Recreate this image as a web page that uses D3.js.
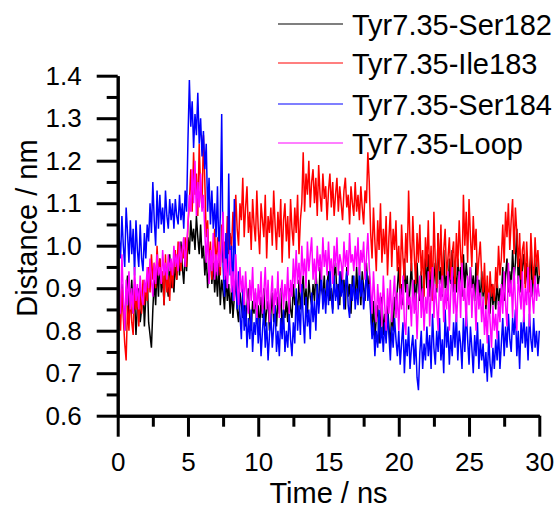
<!DOCTYPE html>
<html>
<head>
<meta charset="utf-8">
<script src="https://cdn.jsdelivr.net/npm/d3@7"></script>
<style>
  body { margin: 0; background: #fff; }
  text { font-family: 'Liberation Sans', Arial, sans-serif; fill: #000; }
</style>
</head>
<body>
<div id="chart"></div>
<script>
// sampling step of the traces (ns)
const timeStep = 0.1

const seriesNames = ['Tyr7.35-Ser182', 'Tyr7.35-Ile183', 'Tyr7.35-Ser184', 'Tyr7.35-Loop']
const seriesColors = ['#000000', '#ff0000', '#0000ff', '#ff00ff']

// distances in nm, one value every 0.1 ns from 0 to 30 ns (one row = 1 ns)
const ser182 = [
  0.95, 0.88, 0.84, 0.91, 0.86, 0.80, 0.89, 0.93, 0.83, 0.87,
  0.92, 0.84, 0.88, 0.79, 0.86, 0.90, 0.82, 0.85, 0.91, 0.81,
  0.88, 0.93, 0.82, 0.79, 0.76, 0.85, 0.92, 0.86, 0.95, 0.88,
  0.97, 0.89, 0.93, 0.86, 0.95, 0.91, 0.88, 0.98, 0.90, 0.94,
  0.89, 0.96, 0.92, 0.99, 0.93, 1.01, 0.95, 0.91, 0.98, 0.94,
  1.02, 0.98, 1.06, 1.01, 1.04, 0.99, 1.07, 1.02, 0.98, 1.05,
  0.97, 1.00, 0.93, 0.98, 0.90, 0.95, 0.99, 0.91, 0.96, 0.89,
  0.94, 0.88, 0.96, 0.86, 0.92, 0.89, 0.85, 0.93, 0.87, 0.91,
  0.84, 0.90, 0.83, 0.88, 0.92, 0.85, 0.82, 0.89, 0.86, 0.83,
  0.88, 0.81, 0.86, 0.90, 0.83, 0.80, 0.87, 0.84, 0.89, 0.82,
  0.86, 0.80, 0.88, 0.83, 0.90, 0.81, 0.85, 0.87, 0.80, 0.84,
  0.89, 0.82, 0.86, 0.81, 0.88, 0.84, 0.90, 0.80, 0.85, 0.83,
  0.87, 0.82, 0.90, 0.85, 0.83, 0.91, 0.86, 0.88, 0.84, 0.92,
  0.85, 0.89, 0.93, 0.86, 0.90, 0.84, 0.92, 0.88, 0.86, 0.91,
  0.87, 0.94, 0.89, 0.86, 0.95, 0.90, 0.88, 0.93, 0.86, 0.91,
  0.94, 0.87, 0.90, 0.85, 0.93, 0.96, 0.88, 0.91, 0.86, 0.94,
  0.89, 0.92, 0.85, 0.95, 0.88, 0.91, 0.84, 0.93, 0.90, 0.87,
  0.95, 0.88, 0.92, 0.86, 0.94, 0.90, 0.87, 0.96, 0.89, 0.93,
  0.85, 0.80, 0.87, 0.78, 0.83, 0.86, 0.77, 0.82, 0.88, 0.79,
  0.84, 0.78, 0.86, 0.81, 0.76, 0.85, 0.80, 0.88, 0.84, 0.90,
  0.95, 0.87, 0.91, 0.86, 0.97, 0.89, 0.93, 0.85, 0.90, 0.96,
  0.88, 0.92, 0.85, 0.96, 0.89, 0.87, 0.94, 0.86, 0.91, 0.97,
  0.90, 0.98, 0.88, 0.94, 0.87, 0.92, 0.96, 0.89, 1.03, 0.91,
  0.95, 0.88, 0.99, 0.90, 0.93, 0.87, 0.97, 0.91, 0.99, 0.89,
  0.94, 0.89, 0.97, 0.91, 0.95, 0.88, 0.98, 0.90, 0.96, 0.92,
  0.88, 0.95, 0.90, 0.93, 0.87, 0.96, 0.89, 0.92, 0.86, 0.94,
  0.88, 0.92, 0.85, 0.90, 0.87, 0.84, 0.91, 0.86, 0.89, 0.85,
  0.92, 0.86, 0.90, 0.88, 0.95, 0.87, 0.93, 0.97, 0.89, 0.94,
  0.90, 0.99, 0.92, 0.96, 1.04, 0.91, 0.97, 0.89, 0.95, 0.98,
  0.91, 0.96, 0.89, 0.94, 0.98, 0.88, 0.95, 0.92, 0.97, 0.90,
  0.93
]

const ile183 = [
  0.93, 0.85, 0.80, 0.90, 0.83, 0.77, 0.73, 0.86, 0.80, 0.89,
  0.82, 0.79, 0.91, 0.85, 0.88, 0.81, 0.90, 0.84, 0.92, 0.86,
  0.91, 0.87, 0.95, 0.89, 0.98, 0.92, 0.96, 0.90, 1.00, 0.93,
  0.97, 0.91, 0.94, 0.86, 0.98, 0.89, 0.93, 0.87, 0.96, 0.90,
  0.95, 0.99, 0.92, 1.01, 0.96, 0.94, 1.00, 0.97, 1.02, 0.95,
  1.05, 1.10, 1.18, 1.08, 1.22, 1.12, 1.17, 1.07, 1.24, 1.13,
  1.09, 1.26, 1.15, 1.02, 1.06, 0.95, 1.01, 0.92, 0.98, 1.04,
  0.94, 1.02, 0.97, 0.93, 1.05, 0.96, 1.01, 0.95, 1.07, 0.98,
  1.03, 0.99, 1.08, 1.01, 1.12, 1.04, 1.00, 1.10, 1.06, 1.16,
  1.02, 1.09, 1.14, 1.03, 1.08, 0.99, 1.11, 1.05, 1.01, 1.13,
  1.04, 0.98, 1.10, 1.06, 1.02, 1.12, 0.97, 1.07, 1.03, 1.09,
  1.00, 1.13, 1.05, 0.99, 1.08, 1.02, 1.11, 0.96, 1.06, 1.10,
  1.01, 1.07, 0.97, 1.11, 1.04, 1.00, 1.09, 1.03, 1.12, 0.98,
  1.06, 1.10, 1.22, 1.08, 1.17, 1.12, 1.20, 1.09, 1.15, 1.18,
  1.10, 1.16, 1.07, 1.19, 1.12, 1.08, 1.17, 1.11, 1.14, 1.06,
  1.13, 1.17, 1.09, 1.15, 1.07, 1.12, 1.16, 1.08, 1.14, 1.10,
  1.06, 1.13, 1.16, 1.09, 1.12, 1.05, 1.14, 1.10, 1.07, 1.15,
  1.08, 1.12, 1.06, 1.14, 1.09, 1.05, 1.13, 1.10, 1.22, 1.15,
  1.03, 0.97, 1.09, 1.01, 0.94, 1.06, 0.99, 1.10, 0.96, 1.04,
  0.98, 1.07, 0.93, 1.02, 1.08, 0.95, 1.04, 0.99, 1.06, 0.94,
  1.00, 0.90, 1.05, 0.97, 0.92, 1.03, 0.96, 1.13, 1.01, 0.94,
  1.07, 0.98, 0.91, 1.03, 0.96, 1.05, 0.93, 0.99, 0.88, 1.02,
  0.95, 1.06, 0.92, 1.00, 0.87, 1.08, 0.96, 0.90, 1.03, 0.94,
  1.05, 0.89, 0.99, 1.04, 0.93, 0.97, 1.02, 0.92, 0.98, 1.01,
  0.90, 1.03, 0.95, 1.06, 0.98, 0.93, 1.12, 1.00, 1.08, 0.96,
  1.11, 1.02, 0.95, 1.07, 0.99, 1.04, 0.92, 0.97, 1.01, 0.93,
  0.89, 0.96, 0.86, 0.93, 0.85, 0.94, 0.88, 0.91, 0.87, 0.95,
  0.90, 1.00, 0.93, 0.97, 1.05, 0.96, 1.08, 1.02, 1.10, 0.99,
  1.06, 1.11, 0.98, 1.09, 1.03, 0.95, 1.03, 0.92, 0.99, 1.01,
  0.90, 1.01, 0.94, 0.89, 1.03, 0.96, 0.91, 1.02, 0.95, 0.99,
  0.93
]

const ser184 = [
  1.10, 1.02, 0.97, 1.07, 1.00, 0.95, 1.09, 1.03, 0.96, 1.06,
  0.98, 1.04, 0.93, 1.06, 0.99, 0.95, 1.05, 0.97, 0.94, 1.03,
  0.97, 1.05, 1.01, 1.10, 1.03, 1.15, 1.06, 1.00, 1.13, 1.04,
  1.12, 1.05, 1.09, 1.03, 1.13, 1.07, 1.04, 1.11, 1.06, 1.10,
  1.04, 1.11, 1.07, 1.05, 1.12, 1.06, 1.10, 1.04, 1.13, 1.08,
  1.25, 1.39, 1.28, 1.34, 1.23, 1.31, 1.26, 1.36, 1.24, 1.30,
  1.21, 1.27, 1.18, 1.24, 1.08, 1.16, 1.05, 1.13, 1.04, 1.10,
  1.02, 1.14, 0.98, 1.07, 1.31, 0.95, 0.88, 1.03, 0.90, 1.17,
  0.93, 1.00, 0.87, 1.11, 0.92, 0.85, 0.94, 0.84, 0.78, 0.90,
  0.80, 0.86, 0.76, 0.83, 0.78, 0.85, 0.75, 0.82, 0.79, 0.86,
  0.77, 0.83, 0.74, 0.80, 0.85, 0.76, 0.82, 0.73, 0.79, 0.84,
  0.76, 0.81, 0.86, 0.75, 0.80, 0.74, 0.83, 0.78, 0.85, 0.75,
  0.80, 0.76, 0.84, 0.78, 0.74, 0.82, 0.77, 0.90, 0.80, 0.86,
  0.79, 0.91, 0.83, 0.77, 0.88, 0.81, 0.85, 0.78, 0.89, 0.82,
  0.87, 0.80, 0.91, 0.84, 0.89, 0.93, 0.85, 0.90, 0.84, 0.92,
  0.86, 0.95, 0.88, 0.84, 0.93, 0.87, 0.91, 0.85, 0.94, 0.88,
  0.92, 0.85, 0.90, 0.94, 0.86, 0.83, 0.91, 0.87, 0.93, 0.85,
  0.90, 0.86, 0.95, 0.88, 0.92, 0.85, 0.89, 0.94, 0.87, 0.91,
  0.84, 0.78, 0.82, 0.74, 0.80, 0.76, 0.85, 0.77, 0.81, 0.75,
  0.82, 0.77, 0.84, 0.79, 0.73, 0.81, 0.76, 0.83, 0.78, 0.74,
  0.80, 0.72, 0.77, 0.82, 0.70, 0.78, 0.74, 0.81, 0.71, 0.76,
  0.79, 0.72, 0.78, 0.69, 0.66, 0.75, 0.80, 0.71, 0.77, 0.73,
  0.81, 0.74, 0.79, 0.71, 0.84, 0.76, 0.72, 0.80, 0.75, 0.83,
  0.73, 0.78, 0.70, 0.85, 0.76, 0.81, 0.72, 0.79, 0.74, 0.82,
  0.76, 0.84, 0.73, 0.80, 0.77, 0.71, 0.83, 0.75, 0.85, 0.78,
  0.72, 0.81, 0.76, 0.70, 0.79, 0.74, 0.82, 0.71, 0.78, 0.73,
  0.77, 0.70, 0.75, 0.68, 0.79, 0.72, 0.69, 0.76, 0.71, 0.78,
  0.73, 0.80, 0.71, 0.77, 0.83, 0.74, 0.81, 0.76, 0.84, 0.78,
  0.75, 0.83, 0.79, 0.85, 0.74, 0.80, 0.71, 0.82, 0.77, 0.84,
  0.76, 0.81, 0.73, 0.84, 0.78, 0.75, 0.83, 0.76, 0.80, 0.74,
  0.80
]

const loop = [
  0.96, 0.89, 0.84, 0.98, 0.88, 0.80, 0.92, 0.86, 0.94, 0.85,
  0.90, 0.84, 0.95, 0.87, 0.91, 0.85, 0.93, 0.88, 0.86, 0.92,
  0.89, 0.95, 0.90, 0.97, 0.92, 0.88, 0.96, 0.91, 0.98, 0.93,
  0.95, 0.91, 0.99, 0.93, 0.96, 0.92, 0.98, 0.94, 0.97, 0.93,
  1.00, 0.95, 0.98, 0.94, 1.01, 0.96, 0.99, 1.02, 0.95, 1.00,
  1.05, 1.12, 1.08, 1.18, 1.10, 1.20, 1.07, 1.15, 1.09, 1.17,
  1.08, 1.12, 1.03, 0.96, 1.04, 0.91, 0.99, 0.94, 1.03, 0.92,
  0.98, 0.93, 1.01, 0.95, 0.99, 1.08, 0.92, 0.97, 0.90, 0.96,
  0.99, 0.89, 0.94, 0.87, 0.98, 0.91, 0.86, 0.95, 0.89, 0.93,
  0.86, 0.94, 0.88, 0.84, 0.92, 0.87, 0.95, 0.85, 0.90, 0.83,
  0.91, 0.86, 0.94, 0.84, 0.89, 0.95, 0.85, 0.92, 0.82, 0.88,
  0.93, 0.84, 0.90, 0.86, 0.94, 0.83, 0.89, 0.92, 0.85, 0.91,
  0.87, 0.95, 0.84, 0.92, 0.88, 0.97, 0.90, 0.99, 0.91, 0.96,
  0.89, 1.00, 0.93, 0.97, 0.90, 1.01, 0.94, 0.98, 1.02, 0.92,
  0.97, 0.91, 1.00, 0.94, 0.98, 0.92, 1.02, 0.95, 0.99, 0.93,
  1.01, 0.94, 0.97, 0.91, 1.00, 0.95, 1.02, 0.93, 0.98, 0.96,
  0.92, 1.01, 0.95, 0.99, 0.93, 1.03, 0.96, 0.98, 0.94, 1.00,
  0.95, 1.02, 0.93, 0.99, 0.96, 1.01, 0.92, 0.97, 1.03, 0.95,
  0.90, 0.84, 0.94, 0.87, 0.82, 0.91, 0.85, 0.89, 0.81, 0.93,
  0.86, 0.80, 0.90, 0.84, 0.92, 0.82, 0.88, 0.93, 0.83, 0.89,
  0.80, 0.90, 0.85, 0.93, 0.82, 0.79, 0.91, 0.86, 0.88, 0.81,
  0.92, 0.84, 0.89, 0.78, 0.87, 0.93, 0.83, 0.90, 0.80, 0.88,
  0.84, 0.94, 0.81, 0.89, 0.95, 0.83, 0.91, 0.86, 0.80, 0.92,
  0.87, 0.93, 0.82, 0.90, 0.85, 0.94, 0.80, 0.89, 0.95, 0.84,
  0.91, 0.82, 0.88, 0.94, 0.83, 0.96, 0.87, 0.90, 0.81, 0.93,
  0.86, 0.95, 0.83, 0.91, 0.88, 0.80, 0.93, 0.85, 0.89, 0.82,
  0.88, 0.79, 0.85, 0.77, 0.89, 0.82, 0.76, 0.86, 0.80, 0.84,
  0.78, 0.87, 0.82, 0.91, 0.84, 0.94, 0.86, 0.81, 0.96, 0.88,
  0.92, 0.83, 0.95, 0.87, 0.80, 0.93, 0.89, 0.85, 0.94, 0.82,
  0.90, 0.86, 0.95, 0.81, 0.92, 0.88, 0.84, 0.93, 0.87, 0.91,
  0.88
]

const xTicks = [0, 5, 10, 15, 20, 25, 30]
const xMinorTicks = [2.5, 7.5, 12.5, 17.5, 22.5, 27.5]
const yTicks = [0.6, 0.7, 0.8, 0.9, 1.0, 1.1, 1.2, 1.3, 1.4]
const yMinorTicks = [0.65, 0.75, 0.85, 0.95, 1.05, 1.15, 1.25, 1.35]

const dimensions = {
  width: 556,
  height: 508,
  margin: {
    top: 75.7,
    right: 16.7,
    bottom: 92.3,
    left: 117.7
  }
}
const innerW = dimensions.width - dimensions.margin.left - dimensions.margin.right
const innerH = dimensions.height - dimensions.margin.top - dimensions.margin.bottom

const wrapper = d3.select('#chart').append('svg')
  .attr('width', dimensions.width)
  .attr('height', dimensions.height)

const bounds = wrapper.append('g')
  .attr('transform', `translate(${dimensions.margin.left}, ${dimensions.margin.top})`)

const xScale = d3.scaleLinear()
  .domain([0, 30])
  .range([0, innerW])

const yScale = d3.scaleLinear()
  .domain([0.6, 1.4])
  .range([innerH, 0])

// traces, drawn in legend order
const allSeries = [ser182, ile183, ser184, loop]
const line = d3.line()
  .x((d, i) => xScale(i * timeStep))
  .y(d => yScale(d))

bounds.append('g')
  .selectAll('path')
  .data(allSeries)
  .join('path')
  .attr('fill', 'none')
  .attr('stroke', (d, i) => seriesColors[i])
  .attr('stroke-width', 1.5)
  .attr('d', line)

// axes: major + minor ticks
function styleAxis (g) {
  g.selectAll('path, line').attr('stroke', '#000').attr('stroke-width', 3)
  g.selectAll('text')
    .style('font-family', "'Liberation Sans', Arial, sans-serif")
    .style('font-size', '26px')
    .attr('fill', '#000')
}

const xAxisContainer = bounds.append('g')
  .attr('transform', `translate(0, ${innerH})`)
xAxisContainer.append('g')
  .call(d3.axisBottom(xScale).tickValues(xMinorTicks).tickSize(11).tickSizeOuter(0).tickFormat(''))
  .call(styleAxis)
xAxisContainer.append('g')
  .call(d3.axisBottom(xScale).tickValues(xTicks).tickSize(21).tickSizeOuter(0).tickPadding(16))
  .call(styleAxis)

const yAxisContainer = bounds.append('g')
yAxisContainer.append('g')
  .call(d3.axisLeft(yScale).tickValues(yMinorTicks).tickSize(11).tickSizeOuter(0).tickFormat(''))
  .call(styleAxis)
yAxisContainer.append('g')
  .call(d3.axisLeft(yScale).tickValues(yTicks).tickSize(21).tickSizeOuter(0).tickPadding(15).tickFormat(d3.format('.1f')))
  .call(styleAxis)

// axis titles
wrapper.append('text')
  .attr('x', dimensions.margin.left + innerW / 2)
  .attr('y', 503)
  .attr('text-anchor', 'middle')
  .style('font-size', '29px')
  .text('Time / ns')

wrapper.append('text')
  .attr('transform', 'translate(37, 228) rotate(-90)')
  .attr('text-anchor', 'middle')
  .style('font-size', '29px')
  .text('Distance / nm')

// legend
const legendRows = [24, 63, 104, 143]
const legend = wrapper.append('g')
legend.selectAll('line')
  .data(seriesNames)
  .join('line')
  .attr('x1', 278)
  .attr('x2', 343)
  .attr('y1', (d, i) => legendRows[i])
  .attr('y2', (d, i) => legendRows[i])
  .attr('stroke', (d, i) => seriesColors[i])
  .attr('stroke-width', 1.2)
legend.selectAll('text')
  .data(seriesNames)
  .join('text')
  .attr('x', 352)
  .attr('y', (d, i) => legendRows[i] + 10.5)
  .style('font-size', '29px')
  .text(d => d)
</script>
</body>
</html>
